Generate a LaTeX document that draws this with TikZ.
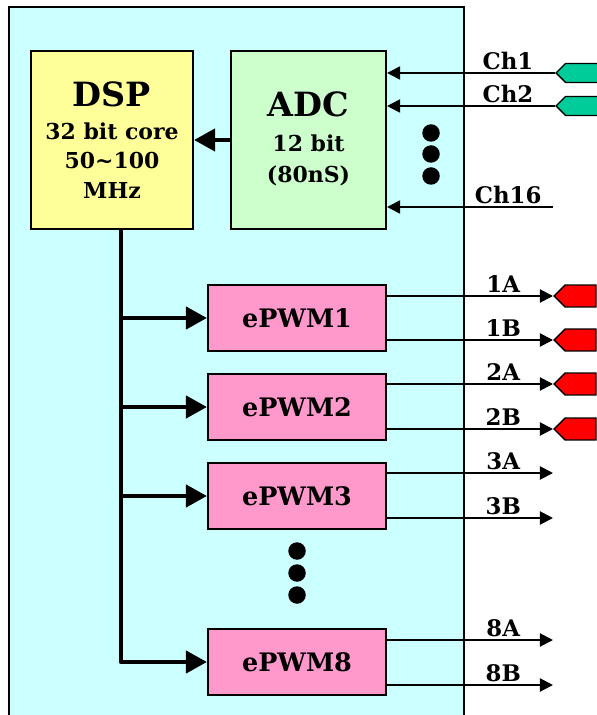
\documentclass[tikz,border=0pt]{standalone}
\usepackage{fontspec}
\setmainfont{DejaVu Serif}
\usetikzlibrary{arrows.meta,positioning,shapes.symbols}
\definecolor{chipcyan}{HTML}{CCFFFF}
\definecolor{dspyellow}{HTML}{FFFF99}
\definecolor{adcgreen}{HTML}{CCFFCC}
\definecolor{pwmpink}{HTML}{FF99CC}
\definecolor{plugteal}{HTML}{00CC99}
\definecolor{plugred}{HTML}{FF0000}

\begin{document}
\begin{tikzpicture}[x=0.02cm,y=-0.02cm,
          blk/.style={draw,line width=1.2pt,align=center,inner sep=1pt,
                      font=\fontsize{12.5}{16.7}\selectfont\bfseries},
          pwm/.style={blk,fill=pwmpink,minimum width=3.56cm,minimum height=1.32cm,
                      font=\fontsize{14.5}{17}\selectfont\bfseries},
          bus/.style={line width=2.6pt,line join=round,-{Triangle[length=12pt,width=12.5pt]}},
          sig/.style={line width=1.1pt,-{Triangle[length=7.5pt,width=7.5pt]}},
          lbl/.style={above,inner sep=1.5pt,font=\fontsize{13}{15}\selectfont\bfseries},
          plug/.style={signal,signal to=west,draw,line width=0.8pt,
                       minimum width=0.84cm,inner sep=0pt,anchor=west},
          dotmark/.style={circle,fill,inner sep=0pt,minimum size=0.35cm}
        ]
        \useasboundingbox (0,0) rectangle (596,715);
        % chip outline, open at the bottom
        \fill[chipcyan] (9,7) rectangle (464,725);
        \draw[line width=1.2pt] (9,725) |- (464,7) -- (464,725);

        \node[blk,fill=dspyellow,minimum width=3.24cm,minimum height=3.56cm] (dsp) at (112,140)
             {{\fontsize{19}{22}\selectfont DSP}\\[2pt]32 bit core\\50\textasciitilde100\\MHz};
        \node[blk,fill=adcgreen,minimum width=3.1cm,minimum height=3.56cm,
              font=\fontsize{12.5}{18}\selectfont\bfseries] (adc) at (308.5,140)
             {{\fontsize{19}{22}\selectfont ADC}\\[1.5pt]12 bit\\(80nS)\\[-15pt]\mbox{}};
        \draw[bus] (adc.west) -- (dsp.east);

        \node[dotmark] (adot1) at (431,133) {};
        \node[dotmark] (adot2) at (431,154) {};
        \node[dotmark] (adot3) at (431,176) {};

        % analog inputs
        \node[plug,fill=plugteal,minimum height=0.38cm] (ch1) at (555,73) {};
        \node[plug,fill=plugteal,minimum height=0.38cm] (ch2) at (555,106) {};
        \coordinate (ch16) at (553,207);
        \draw[sig] (ch1.west)  -- node[lbl,pos=0.28]{Ch1}  (adc.east |- ch1.west);
        \draw[sig] (ch2.west)  -- node[lbl,pos=0.28]{Ch2}  (adc.east |- ch2.west);
        \draw[sig] (ch16)      -- node[lbl,pos=0.27]{Ch16} (adc.east |- ch16);

        % PWM modules
        \node[pwm] (pwm1) at (297,318) {ePWM1};
        \node[pwm] (pwm2) at (297,407) {ePWM2};
        \node[pwm] (pwm3) at (297,496) {ePWM3};
        \node[pwm] (pwm8) at (297,662) {ePWM8};

        \node[dotmark] (pdot1) at (297,551) {};
        \node[dotmark] (pdot2) at (297,573) {};
        \node[dotmark] (pdot3) at (297,595) {};

        \coordinate (bus) at (121,229);
        \draw[bus] (dsp.south -| bus) |- (pwm8.west);
        \draw[bus] (bus |- pwm1.west) -- (pwm1.west);
        \draw[bus] (bus |- pwm2.west) -- (pwm2.west);
        \draw[bus] (bus |- pwm3.west) -- (pwm3.west);

        % PWM outputs
        \node[plug,fill=plugred,minimum height=0.44cm] (o1a) at (553,296) {};
        \node[plug,fill=plugred,minimum height=0.44cm] (o1b) at (553,340) {};
        \node[plug,fill=plugred,minimum height=0.44cm] (o2a) at (553,384) {};
        \node[plug,fill=plugred,minimum height=0.44cm] (o2b) at (553,429) {};
        \coordinate (o3a) at (553,473);
        \coordinate (o3b) at (553,518);
        \coordinate (o8a) at (553,640);
        \coordinate (o8b) at (553,685);
        \draw[sig] (pwm1.east |- o1a.west) -- node[lbl,pos=0.7]{1A} (o1a.west);
        \draw[sig] (pwm1.east |- o1b.west) -- node[lbl,pos=0.7]{1B} (o1b.west);
        \draw[sig] (pwm2.east |- o2a.west) -- node[lbl,pos=0.7]{2A} (o2a.west);
        \draw[sig] (pwm2.east |- o2b.west) -- node[lbl,pos=0.7]{2B} (o2b.west);
        \draw[sig] (pwm3.east |- o3a) -- node[lbl,pos=0.7]{3A} (o3a);
        \draw[sig] (pwm3.east |- o3b) -- node[lbl,pos=0.7]{3B} (o3b);
        \draw[sig] (pwm8.east |- o8a) -- node[lbl,pos=0.7]{8A} (o8a);
        \draw[sig] (pwm8.east |- o8b) -- node[lbl,pos=0.7]{8B} (o8b);
      \end{tikzpicture}
\end{document}
